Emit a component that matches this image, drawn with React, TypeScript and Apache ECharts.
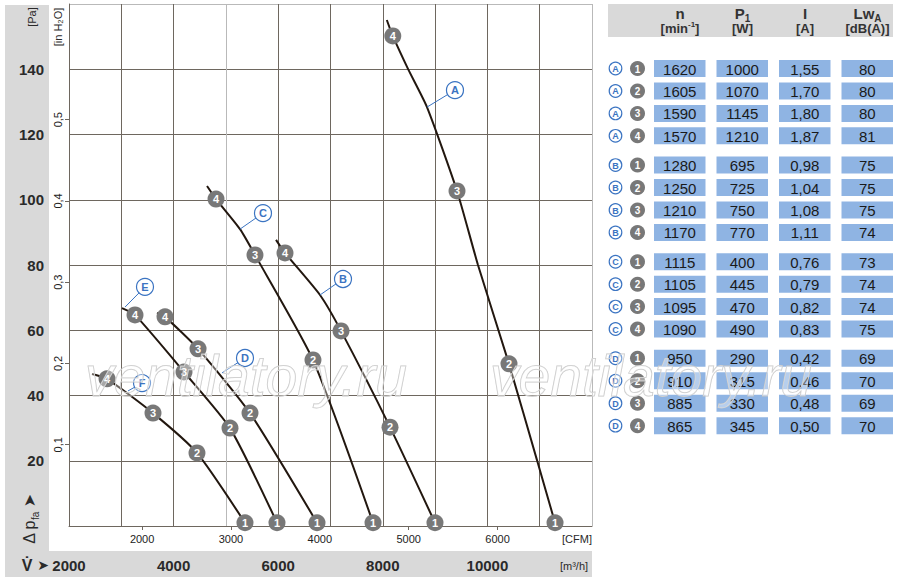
import React, { useEffect, useRef } from 'react';
import * as echarts from 'echarts';

const FONT = "'Liberation Sans Narrow', 'Liberation Sans', 'DejaVu Sans', sans-serif";
const BLUE = '#3b74c2';
const MARK = '#787878';
const CURVE = '#22170f';
const GRID = '#6e675f';
const GRID_LIGHT = '#b9b9b9';
const PANEL = '#d9d9d9';
const CELL = '#8fb4e3';
const TXT = '#2a2a2a';

const M3H_PER_CFM = 1.69901;
const PA_PER_INH2O = 249.089;

// axis ranges and tick labels
const flowMin = 2000;
const flowMax = 12000;
const flowStep = 1000;
const paMin = 0;
const paMax = 160;
const paStep = 20;
const flowLabels = [2000, 4000, 6000, 8000, 10000];
const paLabels = [20, 40, 60, 80, 100, 120, 140];
const cfmLabels = [2000, 3000, 4000, 5000, 6000];
const inH2OLabels = [0.1, 0.2, 0.3, 0.4, 0.5];

// characteristic curves [m³/h, Pa]
const curveNames = ['A', 'B', 'C', 'D', 'E', 'F'];
const curveA = [[8077, 155.1], [8191, 150.2], [8482, 140.1], [8845, 128.4], [9419, 102.7], [9820, 80.0], [10413, 49.7], [10948, 20.2], [11293, 1]];
const curveB = [[5958, 87.7], [6130, 83.7], [6799, 70.8], [7201, 59.8], [8138, 30.3], [8998, 1]];
const curveC = [[4639, 104.2], [4811, 100.2], [5270, 91.0], [5556, 83.1], [6665, 50.9], [7813, 1]];
const curveD = [[3683, 65.3], [3836, 64.1], [4467, 54.3], [5461, 34.6], [6742, 1]];
const curveE = [[3013, 66.8], [3262, 64.7], [4199, 47.2], [5078, 30.0], [5977, 1]];
const curveF = [[2440, 46.6], [2727, 45.1], [3606, 34.6], [4447, 22.4], [5365, 1]];

// operating points 4,3,2,1 on each curve [m³/h, Pa, point]
const pointsA = [[8191, 150.2, 4], [9419, 102.7, 3], [10413, 49.7, 2], [11293, 1, 1]];
const pointsB = [[6130, 83.7, 4], [7201, 59.8, 3], [8138, 30.3, 2], [8998, 1, 1]];
const pointsC = [[4811, 100.2, 4], [5556, 83.1, 3], [6665, 50.9, 2], [7813, 1, 1]];
const pointsD = [[3836, 64.1, 4], [4467, 54.3, 3], [5461, 34.6, 2], [6742, 1, 1]];
const pointsE = [[3262, 64.7, 4], [4199, 47.2, 3], [5078, 30.0, 2], [5977, 1, 1]];
const pointsF = [[2727, 45.1, 4], [3606, 34.6, 3], [4447, 22.4, 2], [5365, 1, 1]];

// curve letter callouts: point on curve -> callout
const calloutFrom = [[8845, 128.4], [6799, 70.8], [5270, 91.0], [4925, 46.9], [3071, 67.1], [3128, 41.4]];
const calloutAt = [[9380, 133.6], [7239, 75.7], [5709, 95.9], [5365, 51.5], [3453, 73.3], [3396, 43.8]];

// table
const tableGroups = ['A', 'B', 'C', 'D'];
const tableSteps = [1, 2, 3, 4];
const speedN = [[1620, 1605, 1590, 1570], [1280, 1250, 1210, 1170], [1115, 1105, 1095, 1090], [950, 910, 885, 865]];
const powerP1 = [[1000, 1070, 1145, 1210], [695, 725, 750, 770], [400, 445, 470, 490], [290, 315, 330, 345]];
const currentI = [[1.55, 1.7, 1.8, 1.87], [0.98, 1.04, 1.08, 1.11], [0.76, 0.79, 0.82, 0.83], [0.42, 0.46, 0.48, 0.5]];
const soundLwA = [[80, 80, 80, 81], [75, 75, 75, 74], [73, 74, 74, 75], [69, 70, 69, 70]];

const curves = [curveA, curveB, curveC, curveD, curveE, curveF];
const points = [pointsA, pointsB, pointsC, pointsD, pointsE, pointsF];

function txt(x: number, y: number, text: string, o: any = {}, z = 10, rotation = 0): any {
  return {
    type: 'text',
    x,
    y,
    rotation,
    z,
    silent: true,
    style: {
      text,
      fontFamily: FONT,
      fontSize: 11,
      fill: TXT,
      align: 'center',
      textAlign: 'center',
      verticalAlign: 'middle',
      textVerticalAlign: 'middle',
      ...o,
    },
  };
}

function buildGraphics(): any[] {
  const g: any[] = [];
  // grey panels
  g.push({ type: 'rect', z: -10, silent: true, shape: { x: 5, y: 5, width: 44, height: 572 }, style: { fill: PANEL } });
  g.push({ type: 'rect', z: -10, silent: true, shape: { x: 5, y: 551, width: 587, height: 26 }, style: { fill: PANEL } });

  // axis titles
  g.push(txt(31.5, 17, '[Pa]', { fontSize: 11 }, 10, Math.PI / 2));
  g.push(txt(58, 27, '[in H₂O]', { fontSize: 11 }, 10, Math.PI / 2));
  g.push(
    txt(29, 519, '{a|Δ p}{b|fa}{a| ➤}', {
      rich: {
        a: { fontSize: 16, fontFamily: FONT, fill: TXT, lineHeight: 22, verticalAlign: 'middle' },
        b: { fontSize: 10, fontFamily: FONT, fill: TXT, lineHeight: 22, verticalAlign: 'bottom' },
      },
    }, 10, Math.PI / 2)
  );
  g.push(txt(27, 565, 'V̇', { fontSize: 16, fontWeight: 'bold' }));
  g.push(txt(43, 565, '➤', { fontSize: 14 }));
  g.push(txt(577, 539, '[CFM]', { fontSize: 11 }));
  g.push(txt(574, 566, '[m³/h]', { fontSize: 11 }));

  // table header
  g.push({ type: 'rect', z: -10, silent: true, shape: { x: 608, y: 4, width: 285, height: 33 }, style: { fill: PANEL } });
  const colCenters = [680, 742.5, 805, 867.5];
  const colLeft = [654, 716.5, 779, 841.5];
  const hb = { fontFamily: FONT, fontWeight: 'bold', fill: '#333' };
  const heads = ['{m|n}', '{m|P}{s|1}', '{m|I}', '{m|Lw}{s|A}'];
  const units = ['{u|[min}{p|-1}{u|]}', '{u|[W]}', '{u|[A]}', '{u|[dB(A)]}'];
  heads.forEach((h, i) => {
    g.push(txt(colCenters[i], 13, h, {
      rich: {
        m: { ...hb, fontSize: 15, lineHeight: 20, verticalAlign: 'middle' },
        s: { ...hb, fontSize: 10, lineHeight: 20, verticalAlign: 'bottom' },
      },
    }));
    g.push(txt(colCenters[i], 28, units[i], {
      rich: {
        u: { ...hb, fontSize: 13, lineHeight: 16, verticalAlign: 'middle' },
        p: { ...hb, fontSize: 8, lineHeight: 16, verticalAlign: 'top' },
      },
    }));
  });

  // table rows
  tableGroups.forEach((grp, gi) => {
    tableSteps.forEach((st, ri) => {
      const y = 68.5 + gi * 96.6 + ri * 22.45;
      g.push({ type: 'circle', z: 5, silent: true, shape: { cx: 615.5, cy: y, r: 6.3 }, style: { fill: '#fff', stroke: BLUE, lineWidth: 1.2 } });
      g.push(txt(615.5, y + 0.5, grp, { fontSize: 9, fontWeight: 'bold', fill: BLUE, fontFamily: 'Liberation Sans, sans-serif' }, 6));
      g.push({ type: 'circle', z: 5, silent: true, shape: { cx: 637.5, cy: y, r: 7.5 }, style: { fill: MARK } });
      g.push(txt(637.5, y + 0.5, String(st), { fontSize: 10, fontWeight: 'bold', fill: '#fff', fontFamily: 'Liberation Sans, sans-serif' }, 6));
      const vals = [
        String(speedN[gi][ri]),
        String(powerP1[gi][ri]),
        currentI[gi][ri].toFixed(2).replace('.', ','),
        String(soundLwA[gi][ri]),
      ];
      vals.forEach((v, ci) => {
        g.push({ type: 'rect', z: 5, silent: true, shape: { x: colLeft[ci], y: y - 8.5, width: 51.5, height: 17 }, style: { fill: CELL } });
        g.push(txt(colLeft[ci] + 25.75, y + 0.5, v, { fontSize: 15, fill: '#1a1a1a' }, 6));
      });
    });
  });

  // watermark
  const wm = (x: number) => ({
    type: 'text',
    x,
    y: 376,
    z: 100,
    silent: true,
    style: {
      text: 'ventilatory.ru',
      fontFamily: "'Liberation Sans', sans-serif",
      fontStyle: 'italic',
      fontSize: 57,
      fill: 'rgba(255,255,255,0.35)',
      stroke: '#c8c8c8',
      lineWidth: 1,
      align: 'left',
      textAlign: 'left',
      verticalAlign: 'middle',
      textVerticalAlign: 'middle',
    },
  });
  g.push(wm(85));
  g.push(wm(490));
  return g;
}

function buildOption(): any {
  const series: any[] = [];
  curves.forEach((c, i) => {
    series.push({
      type: 'line',
      name: 'Kennlinie ' + curveNames[i],
      data: c,
      smooth: 0.2,
      symbol: 'none',
      silent: true,
      lineStyle: { color: CURVE, width: 2 },
      z: 3,
    });
  });
  calloutFrom.forEach((a, i) => {
    series.push({
      type: 'line',
      data: [a, calloutAt[i]],
      symbol: 'none',
      silent: true,
      lineStyle: { color: BLUE, width: 1 },
      z: 4,
    });
  });
  series.push({
    type: 'scatter',
    data: points.flat().map((p) => ({ value: [p[0], p[1]], name: String(p[2]) })),
    symbolSize: 17,
    silent: true,
    itemStyle: { color: MARK, opacity: 1 },
    label: { show: true, position: 'inside', formatter: '{b}', color: '#fff', fontWeight: 'bold', fontSize: 11, fontFamily: 'Liberation Sans, sans-serif' },
    z: 5,
  });
  series.push({
    type: 'scatter',
    data: calloutAt.map((s, i) => ({ value: s, name: curveNames[i] })),
    symbolSize: 17,
    silent: true,
    itemStyle: { color: '#fff', borderColor: BLUE, borderWidth: 1.2, opacity: 1 },
    label: { show: true, position: 'inside', formatter: '{b}', color: BLUE, fontWeight: 'bold', fontSize: 11, fontFamily: 'Liberation Sans, sans-serif' },
    z: 6,
  });

  const xSplit = [GRID, GRID, GRID, GRID_LIGHT, GRID, GRID, GRID, GRID, GRID, GRID, GRID_LIGHT];
  const ySplit = [GRID, GRID, GRID, GRID, GRID, GRID, GRID, GRID, GRID_LIGHT];
  const plain = (v: number) => String(v);

  return {
    animation: false,
    backgroundColor: '#fff',
    textStyle: { fontFamily: FONT },
    grid: { left: 69, top: 4, width: 523, height: 522, containLabel: false, outerBoundsMode: 'none' },
    xAxis: [
      {
        type: 'value',
        min: flowMin,
        max: flowMax,
        interval: flowStep,
        position: 'bottom',
        axisLine: { show: true, onZero: false, lineStyle: { color: GRID, width: 1 } },
        axisTick: { show: false },
        axisLabel: { customValues: flowLabels, formatter: plain, margin: 32, fontSize: 15, fontWeight: 'bold', color: TXT, fontFamily: FONT },
        splitLine: { show: true, lineStyle: { color: xSplit, width: 1 } },
      },
      {
        type: 'value',
        min: flowMin / M3H_PER_CFM,
        max: flowMax / M3H_PER_CFM,
        position: 'bottom',
        axisLine: { show: false, onZero: false },
        axisTick: { show: true, customValues: cfmLabels, length: 4, lineStyle: { color: GRID } },
        axisLabel: { customValues: cfmLabels, formatter: plain, margin: 7, fontSize: 11, color: '#222', fontFamily: FONT },
        splitLine: { show: false },
      },
    ],
    yAxis: [
      {
        type: 'value',
        min: paMin,
        max: paMax,
        interval: paStep,
        position: 'left',
        axisLine: { show: true, onZero: false, lineStyle: { color: GRID, width: 1 } },
        axisTick: { show: false },
        axisLabel: { customValues: paLabels, formatter: plain, margin: 25, fontSize: 15, fontWeight: 'bold', color: TXT, fontFamily: FONT },
        splitLine: { show: true, lineStyle: { color: ySplit, width: 1 } },
      },
      {
        type: 'value',
        min: paMin / PA_PER_INH2O,
        max: paMax / PA_PER_INH2O,
        position: 'left',
        axisLine: { show: false, onZero: false },
        axisTick: { show: true, customValues: inH2OLabels, length: 4, lineStyle: { color: GRID } },
        axisLabel: {
          customValues: inH2OLabels,
          rotate: 90,
          margin: 6,
          fontSize: 11,
          color: '#222',
          fontFamily: FONT,
          formatter: (v: number) => v.toFixed(1).replace('.', ','),
        },
        splitLine: { show: false },
      },
    ],
    series,
    graphic: buildGraphics(),
  };
}

export default function App() {
  const ref = useRef<HTMLDivElement>(null);
  useEffect(() => {
    if (!ref.current) return;
    const chart = echarts.init(ref.current, null, { renderer: 'svg' });
    chart.setOption(buildOption());
    return () => chart.dispose();
  }, []);
  return (
    <div
      ref={ref}
      style={{ position: 'fixed', left: 0, top: 0, width: 900, height: 585, background: '#fff' }}
    />
  );
}
